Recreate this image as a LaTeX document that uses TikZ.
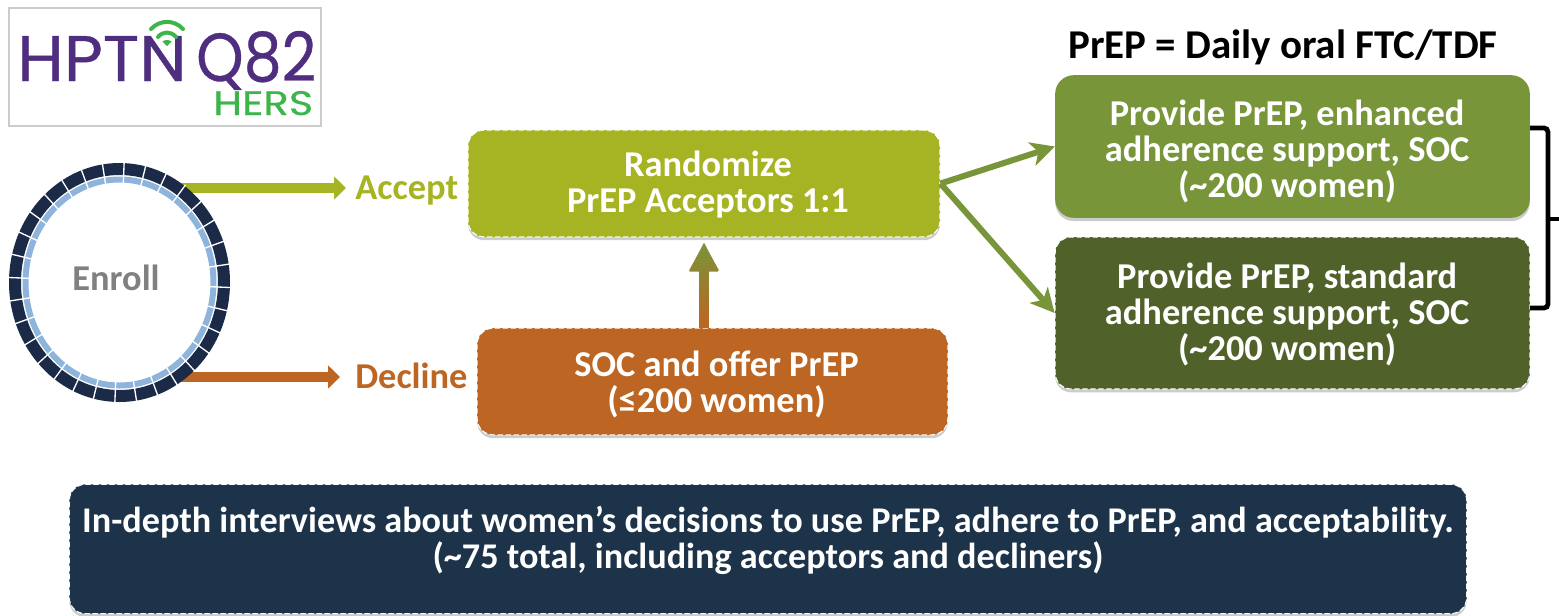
\documentclass[tikz,border=0pt]{standalone}
\usepackage{fontspec}
\usepackage{graphicx}
\setmainfont{Carlito}
\newfontfamily\logofont[FakeBold=0.5]{Poppins}
\usetikzlibrary{arrows.meta, shapes.geometric, shadows}
\definecolor{limebox}{HTML}{A6B423}
\definecolor{orangebox}{HTML}{BD6522}
\definecolor{enhancedbox}{HTML}{78953A}
\definecolor{standardbox}{HTML}{50622A}
\definecolor{navybox}{HTML}{1D3349}
\definecolor{ringdark}{HTML}{1B2A47}
\definecolor{ringlight}{HTML}{8FB4DC}
\definecolor{logopurple}{HTML}{4F2D7F}
\definecolor{logogreen}{HTML}{3DB54A}
\begin{document}
\begin{tikzpicture}[x=0.75pt,y=-0.75pt]
    \tikzstyle{every node}=[font=\fontsize{27.3}{27}\selectfont]
    \tikzstyle{flowbox} = [rectangle, rounded corners=12pt, text=white, align=center, inner sep=0pt, line width=0.8pt, draw=white, dash pattern=on 4pt off 2pt, drop shadow={shadow xshift=0pt, shadow yshift=-2.5pt, fill=black, opacity=0.2}]
    \tikzstyle{plainbox} = [rectangle, rounded corners=14pt, text=white, align=center, inner sep=0pt, drop shadow={shadow xshift=0pt, shadow yshift=-2.5pt, fill=black, opacity=0.2}]
    \tikzstyle{choice} = [anchor=west, inner sep=0pt, text height=19.5pt, text depth=2.5pt]
    \tikzstyle{fatarrow} = [line width=8pt, -{Triangle[length=9pt, width=17pt]}]
    \tikzstyle{thinarrow} = [draw=enhancedbox, line width=4.5pt, -{Stealth[length=18pt, width=18pt, inset=5pt]}]
    \tikzstyle{bracket} = [draw=black, line width=3.6pt, rounded corners=3pt]
    \tikzstyle{logotext} = [anchor=base west, inner sep=0pt]

    \useasboundingbox (0,0) rectangle (1559,615);

    % logo
    \node[draw=black!20, line width=0.8pt, minimum width=234pt, minimum height=88.5pt, inner sep=0pt](logo) at (165,67) {};
    \node[logotext, text=logopurple](hptn) at (17,81) {\resizebox{127pt}{33.75pt}{\logofont HPTN}};
    \node[logotext, text=logopurple](q82) at (196,81) {\raisebox{0pt}[\height][0pt]{\resizebox{90pt}{37.5pt}{\logofont Q82}}};
    \node[logotext, text=logogreen](hers) at (213,115) {\resizebox{75pt}{18pt}{\logofont HERS}};
    \draw[logogreen, line width=3pt, line cap=round] (151,29) .. controls (160,19.5) and (174,19.5) .. (183,29);
    \draw[logogreen, line width=3pt, line cap=round] (158,37) .. controls (163,31) and (171,31) .. (176,37);
    \fill[logogreen] (167,46) -- (162.5,41.5) .. controls (165,39.5) and (169,39.5) .. (171.5,41.5) -- cycle;

    \node[inner sep=0pt, text=black!50](enroll) at (116,278) {\textbf{Enroll}};
    \node[choice, text=limebox](accept) at (355,188) {\textbf{Accept}};
    \node[choice, text=orangebox](decline) at (355,377) {\textbf{Decline}};

    \coordinate (ringtop) at (178,188);
    \coordinate (ringbottom) at (175,377);

    \draw[fatarrow, limebox, shorten >=6.75pt] (ringtop) -- (accept.west);
    \draw[fatarrow, orangebox, shorten >=11.25pt] (ringbottom) -- (decline.west);

    % ring
    \begin{scope}[shift={(119.5,282.5)}]
        \fill[ringdark, even odd rule] (0,0) ellipse [x radius=110.5, y radius=119.5] (0,0) ellipse [x radius=98.5, y radius=107.5];
        \fill[ringlight, even odd rule] (0,0) ellipse [x radius=97, y radius=106] (0,0) ellipse [x radius=91, y radius=100];
        \foreach \a in {0,...,31}
            \draw[white, line width=1pt] ({\a*11.25+2.4}:89 and 98) -- ({\a*11.25+2.4}:112 and 121);
    \end{scope}

    \node[flowbox, fill=limebox, minimum width=354pt, minimum height=80pt, text height=48pt](randomize) at (704,183.5) {\hspace*{6pt}\textbf{Randomize}\\\hspace*{6pt}\textbf{PrEP Acceptors 1:1}};
    \node[flowbox, fill=orangebox, minimum width=353pt, minimum height=80pt, text height=50.5pt](soc) at (712.5,381.5) {\hspace*{6pt}\textbf{SOC and offer PrEP}\\\hspace*{6pt}\textbf{(≤200 women)}};
    \node[plainbox, fill=enhancedbox, minimum width=356pt, minimum height=107pt, text height=80.5pt](enhanced) at (1292.5,146.5) {\hspace*{-8pt}\textbf{Provide PrEP, enhanced}\\\hspace*{-8pt}\textbf{adherence support, SOC}\\\hspace*{-8pt}\textbf{(\textasciitilde200 women)}};
    \node[flowbox, fill=standardbox, minimum width=356pt, minimum height=114pt, text height=76pt](standard) at (1292.5,313) {\hspace*{-8pt}\textbf{Provide PrEP, standard}\\\hspace*{-8pt}\textbf{adherence support, SOC}\\\hspace*{-8pt}\textbf{(\textasciitilde200 women)}};
    \node[flowbox, fill=navybox, minimum width=1048pt, minimum height=97pt, text depth=18pt, font=\fontsize{27.15}{27}\selectfont](interviews) at (768,549) {\textbf{In-depth interviews about women’s decisions to use PrEP, adhere to PrEP, and acceptability.}\\\textbf{(\textasciitilde75 total, including acceptors and decliners)}};
    \node[inner sep=0pt, text=black, font=\fontsize{30.7}{31}\selectfont](title) at (1283,47) {\textbf{PrEP = Daily oral FTC/TDF}};

    \draw[thinarrow] (randomize.east) -- (enhanced.west);
    \draw[thinarrow] (randomize.east) -- (standard.west);

    % up arrow with colour fade
    \coordinate (upbase) at (randomize.south |- soc.north);
    \draw[line width=7pt, draw=orangebox!50!enhancedbox, -{Triangle[length=21pt, width=21pt]}, shorten >=4pt] (upbase) -- (randomize.south);
    \shade[bottom color=orangebox, top color=enhancedbox] (upbase) ++(-4.75,0) -- ++(0,-56) -- ++(-9.75,0) -- ++(14.5,-29) -- ++(14.5,29) -- ++(-9.75,0) -- ++(0,56) -- cycle;

    % bracket
    \coordinate (bracketa) at (1530,128);
    \coordinate (bracketb) at (1530,308);
    \coordinate (bracketmid) at (1559,219);
    \draw[bracket] (bracketa) -| (1548,308) -- (bracketb);
    \draw[bracket] (1548,219) -- (bracketmid);
\end{tikzpicture}
\end{document}
